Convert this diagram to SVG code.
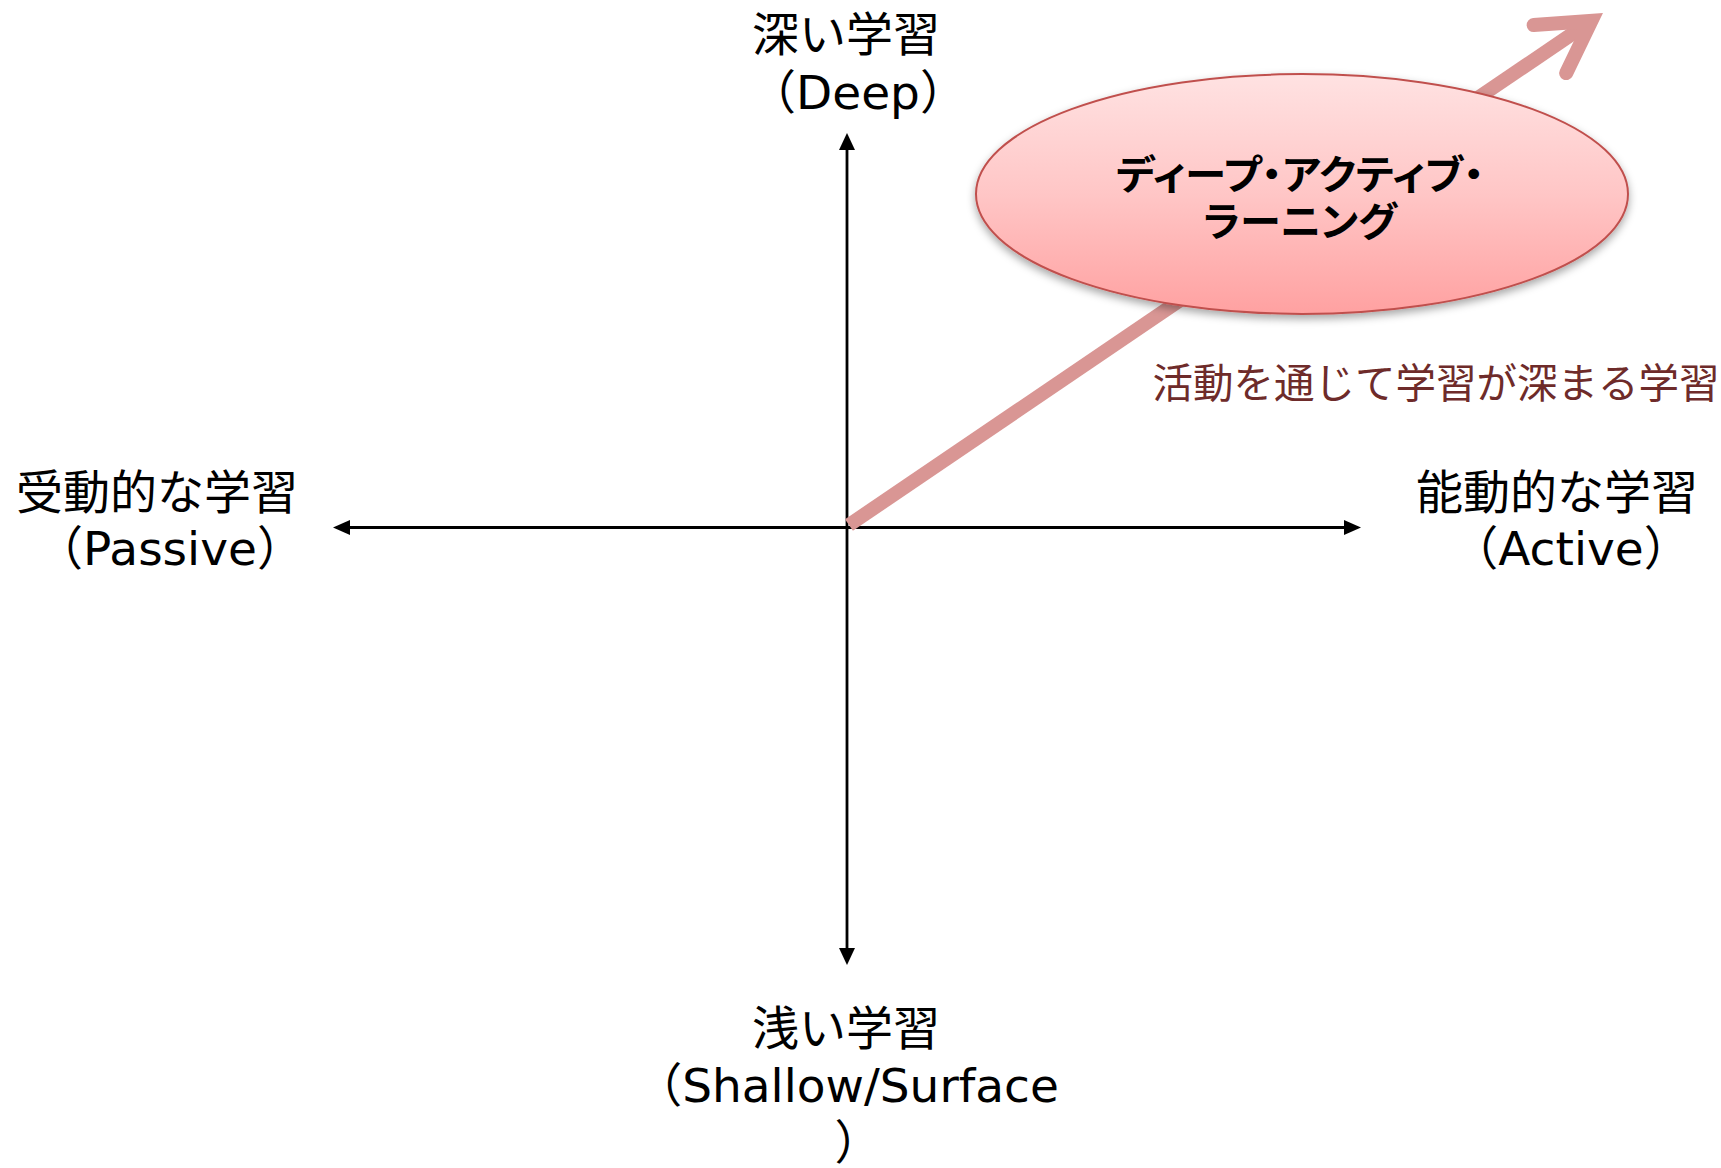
<svg xmlns="http://www.w3.org/2000/svg" width="1721" height="1168" viewBox="0 0 1721 1168">
  <style>
    .lbl { font-family: "DejaVu Sans", "Noto Sans CJK JP", sans-serif; font-size: 47px; fill: #000000; text-anchor: middle; }
    .axis { stroke: #000000; stroke-width: 2.8; fill: none; }
    .head { fill: #000000; stroke: none; }
    .pink { stroke: #D99694; stroke-width: 14; fill: none; }
    .dal { font-family: "Noto Sans CJK JP", sans-serif; font-weight: 700; font-size: 40px; fill: #000000; text-anchor: middle; font-feature-settings: "palt"; }
    .note { font-family: "Noto Sans CJK JP", sans-serif; font-size: 40.5px; fill: #6E2B2A; text-anchor: middle; }
  </style>
  <defs>
    <linearGradient id="ellFill" x1="0" y1="0" x2="0" y2="1">
      <stop offset="0" stop-color="#FFE2E2"/>
      <stop offset="0.5" stop-color="#FFC6C6"/>
      <stop offset="1" stop-color="#FFA1A1"/>
    </linearGradient>
    <filter id="shadow" x="-10%" y="-10%" width="120%" height="130%">
      <feDropShadow dx="0" dy="4" stdDeviation="4" flood-color="#000000" flood-opacity="0.35"/>
    </filter>
  </defs>
  <rect x="0" y="0" width="1721" height="1168" fill="#FFFFFF"/>

  <g id="connectors">
    <line class="axis" x1="847" y1="148" x2="847" y2="950"/>
    <polygon class="head" points="847,133 839,150 855,150"/>
    <polygon class="head" points="847,965 839,948 855,948"/>
    <line class="axis" x1="347" y1="527.5" x2="1347" y2="527.5"/>
    <polygon class="head" points="333,527.5 350,520 350,535"/>
    <polygon class="head" points="1361,527.5 1344,520 1344,535"/>
    <g id="progress-arrow">
      <line class="pink" x1="849" y1="525" x2="1591.4" y2="20.9" stroke-linecap="butt"/>
      <path class="pink" d="M1533.6,25.1 L1591.4,20.9 L1566.2,73.1" stroke-linecap="round" stroke-linejoin="miter"/>
    </g>
  </g>

  <g id="node-deep">
    <text class="lbl" x="846" y="51">深い学習</text>
    <text class="lbl" x="858" y="109">（Deep）</text>
  </g>
  <g id="node-shallow">
    <text class="lbl" x="846" y="1045">浅い学習</text>
    <text class="lbl" x="847" y="1102">（Shallow/Surface</text>
    <text class="lbl" x="858" y="1159">）</text>
  </g>
  <g id="node-passive">
    <text class="lbl" x="157" y="509">受動的な学習</text>
    <text class="lbl" x="170" y="565">（Passive）</text>
  </g>
  <g id="node-active">
    <text class="lbl" x="1557" y="509">能動的な学習</text>
    <text class="lbl" x="1571" y="565">（Active）</text>
  </g>

  <g id="node-deep-active-learning">
    <ellipse cx="1302" cy="194" rx="326" ry="120" fill="url(#ellFill)" stroke="#C0504D" stroke-width="2" filter="url(#shadow)"/>
    <text class="dal"><tspan x="1300" y="189" textLength="368" lengthAdjust="spacingAndGlyphs">ディープ・アクティブ・</tspan><tspan x="1300" y="236" textLength="194" lengthAdjust="spacingAndGlyphs">ラーニング</tspan></text>
  </g>

  <g id="label-activity">
    <text class="note" x="1436" y="398">活動を通じて学習が深まる学習</text>
  </g>
</svg>
